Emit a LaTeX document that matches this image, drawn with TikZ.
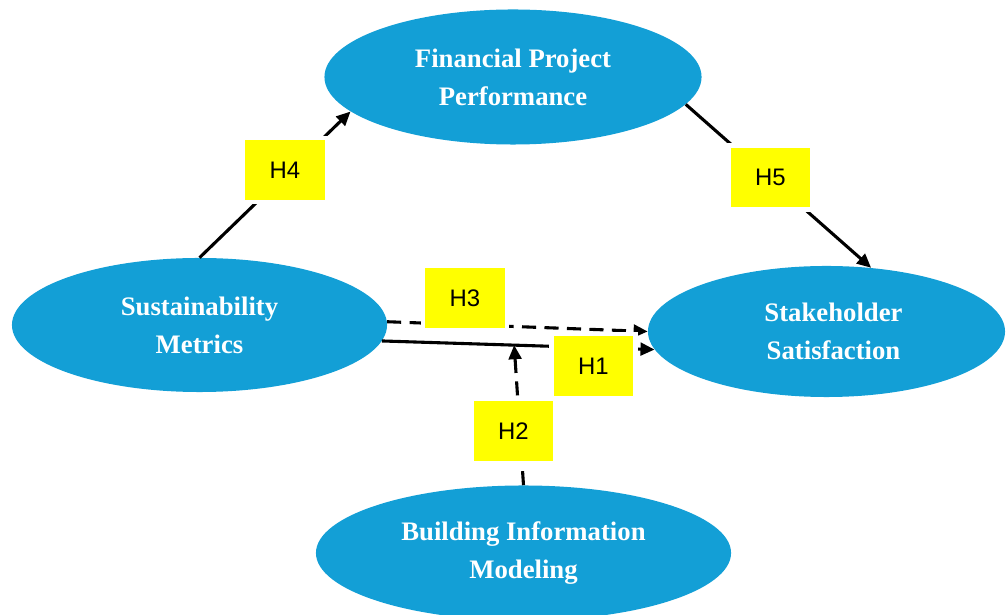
\documentclass[tikz,border=0pt]{standalone}
\usepackage{fontspec}
\setmainfont{Liberation Serif}
\setsansfont{Liberation Sans}
\usepackage{xcolor}
\usepackage{tikz}
\usetikzlibrary{arrows.meta, positioning, shapes.geometric, calc}

\definecolor{construct}{RGB}{19,159,214}
\definecolor{hypyellow}{RGB}{255,255,0}

\tikzset{
    construct/.style={ellipse, fill=construct, text=white, inner sep=0pt, align=center,
        font=\fontsize{19}{27}\selectfont\bfseries},
    hypbox/.style={rectangle, fill=hypyellow, draw=white, line width=3pt,
        minimum width=2.1cm, minimum height=1.6cm, font=\sffamily\fontsize{17}{20}\selectfont},
    link/.style={line width=2.2pt, -{Triangle[length=10pt,width=9pt]}},
    dashlink/.style={link, dash pattern=on 10pt off 6pt}
}

\begin{document}
\begin{tikzpicture}[x=0.025cm, y=-0.025cm]
    \useasboundingbox (0,0) rectangle (1008,615);

    % Constructs
    \node[construct, minimum width=9.425cm, minimum height=3.375cm] (fin) at (513,77) {Financial Project\\Performance};
    \node[construct, minimum width=9.375cm, minimum height=3.35cm] (sus) at (199.5,325) {Sustainability\\Metrics};
    \node[construct, minimum width=8.925cm, minimum height=3.275cm] (sat) at (826.5,331.5) {\hspace{0.35cm}Stakeholder\\\hspace{0.35cm}Satisfaction};
    \node[construct, minimum width=10.375cm, minimum height=3.375cm] (bim) at (523.5,553) {Building Information\\Modeling};

    % Paths
    \draw[link] (sus.north) -- (fin.192);
    \draw[link] (fin.-9) -- (sat.55);
    \draw[dashlink] (sus.1.5) -- (sat.west);
    \draw[link] (sus.-5.5) -- (sat.186);
    \coordinate (mod) at ($(sus.-5.5)!0.485!(sat.186)$);
    \draw[dashlink] (bim.north) -- (mod);

    % Hypotheses
    \node[hypbox] (h4) at (285,170) {H4};
    \node[hypbox] (h5) at (770.5,177.5) {H5};
    \node[hypbox] (h3) at (465,298) {H3};
    \node[hypbox] (h1) at (593.5,366) {H1};
    \node[hypbox] (h2) at (513.5,431) {H2};
\end{tikzpicture}
\end{document}
